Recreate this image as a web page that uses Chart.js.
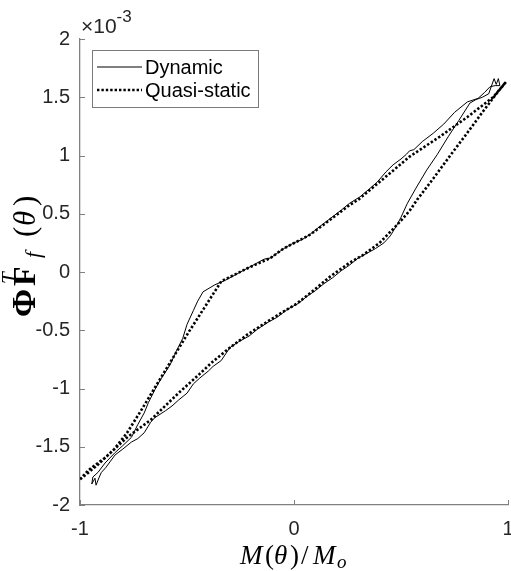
<!DOCTYPE html>
<html>
<head>
<meta charset="utf-8">
<script src="https://cdn.jsdelivr.net/npm/chart.js@4/dist/chart.umd.min.js"></script>
<style>
  html, body { margin: 0; padding: 0; background: #fff; }
</style>
</head>
<body>
<canvas id="chart" width="511" height="571"></canvas>
<script>
// values are in units of 1e-3
const quasiX = [-1, -0.96, -0.88, -0.78, -0.67, -0.54, -0.45, -0.38, -0.30, -0.22, -0.145, -0.05, 0.014, 0.09, 0.168, 0.26, 0.323, 0.40, 0.458, 0.50, 0.542, 0.575, 0.65, 0.73, 0.80, 0.88, 0.95, 0.99,
  0.93, 0.81, 0.68, 0.54, 0.45, 0.30, 0.26, 0.17, 0.075, -0.05, -0.11, -0.22, -0.34, -0.42, -0.49, -0.56, -0.636, -0.715, -0.78, -0.84, -0.92, -1];
const quasiY = [-1.78, -1.70, -1.59, -1.42, -1.27, -1.04, -0.89, -0.77, -0.65, -0.54, -0.45, -0.34, -0.27, -0.16, -0.04, 0.08, 0.146, 0.25, 0.36, 0.44, 0.53, 0.62, 0.80, 1.00, 1.17, 1.37, 1.54, 1.63,
  1.50, 1.33, 1.16, 0.99, 0.85, 0.62, 0.575, 0.45, 0.32, 0.20, 0.12, 0.03, -0.08, -0.31, -0.51, -0.72, -0.95, -1.19, -1.38, -1.52, -1.66, -1.78];

const dynamicX = [-0.94, -0.945, -0.93, -0.925, -0.91, -0.90, -0.88, -0.86, -0.836, -0.80, -0.76, -0.73, -0.70, -0.67, -0.65, -0.60, -0.57, -0.54, -0.50, -0.47, -0.44, -0.40, -0.378, -0.34, -0.30, -0.26, -0.21, -0.17, -0.12, -0.08, -0.03, 0.02, 0.06, 0.10, 0.14, 0.18, 0.22, 0.26, 0.30, 0.34, 0.38, 0.42, 0.45, 0.48, 0.50, 0.53, 0.57, 0.62, 0.67, 0.72, 0.77, 0.822, 0.85, 0.88, 0.91, 0.935, 0.945, 0.955, 0.962,
  0.94, 0.916, 0.89, 0.86, 0.81, 0.75, 0.70, 0.65, 0.60, 0.56, 0.54, 0.525, 0.50, 0.463, 0.43, 0.388, 0.35, 0.308, 0.26, 0.22, 0.17, 0.12, 0.08, 0.04, 0.0, -0.04, -0.08, -0.11, -0.14, -0.18, -0.22, -0.27, -0.32, -0.37, -0.425, -0.45, -0.47, -0.50, -0.52, -0.55, -0.58, -0.626, -0.65, -0.68, -0.70, -0.73, -0.76, -0.80, -0.836, -0.883, -0.916, -0.94];
const dynamicY = [-1.76, -1.82, -1.77, -1.83, -1.76, -1.72, -1.68, -1.63, -1.57, -1.52, -1.46, -1.43, -1.38, -1.29, -1.25, -1.19, -1.15, -1.10, -1.04, -0.96, -0.91, -0.85, -0.81, -0.76, -0.65, -0.60, -0.55, -0.49, -0.43, -0.39, -0.32, -0.27, -0.21, -0.16, -0.10, -0.05, 0.01, 0.06, 0.12, 0.16, 0.20, 0.25, 0.31, 0.40, 0.47, 0.59, 0.72, 0.875, 1.01, 1.16, 1.30, 1.45, 1.48, 1.50, 1.53, 1.66, 1.61, 1.66, 1.60,
  1.60, 1.59, 1.54, 1.49, 1.46, 1.37, 1.27, 1.19, 1.12, 1.05, 1.04, 1.01, 0.97, 0.92, 0.86, 0.77, 0.71, 0.645, 0.59, 0.53, 0.46, 0.39, 0.33, 0.28, 0.25, 0.21, 0.16, 0.12, 0.11, 0.07, 0.03, -0.02, -0.07, -0.11, -0.17, -0.25, -0.33, -0.45, -0.57, -0.68, -0.80, -0.93, -1.01, -1.12, -1.21, -1.31, -1.42, -1.49, -1.55, -1.64, -1.72, -1.76];

const xTickValues = [-1, 0, 1];
const yTickValues = [-2, -1.5, -1, -0.5, 0, 0.5, 1, 1.5, 2];
const seriesNames = ["Dynamic", "Quasi-static"];

const axisColor = "#808080";
const sansFont = "'Liberation Sans', Arial, sans-serif";
const serifFont = "'Liberation Serif', 'Times New Roman', serif";

function toPoints(xs, ys) {
  return xs.map((x, i) => ({ x: x, y: ys[i] }));
}

// draw glyph pieces at given offsets along the baseline
function drawPieces(ctx, pieces, x0, y0) {
  ctx.textAlign = "left";
  ctx.textBaseline = "alphabetic";
  pieces.forEach((p) => {
    ctx.font = p.font;
    ctx.fillText(p.text, x0 + p.at, y0 + (p.dy || 0));
  });
}

const decorations = {
  id: "decorations",
  afterDraw(chart) {
    const ctx = chart.ctx;
    const area = chart.chartArea;
    const xs = chart.scales.x;
    const ys = chart.scales.y;
    ctx.save();

    // inward tick marks
    ctx.strokeStyle = axisColor;
    ctx.lineWidth = 1;
    ctx.beginPath();
    xTickValues.forEach((v) => {
      const px = Math.round(xs.getPixelForValue(v)) + 0.5;
      ctx.moveTo(px, area.bottom);
      ctx.lineTo(px, area.bottom - 5);
    });
    yTickValues.forEach((v) => {
      const py = Math.round(ys.getPixelForValue(v)) + 0.5;
      ctx.moveTo(area.left, py);
      ctx.lineTo(area.left + 5, py);
    });
    ctx.stroke();

    // exponent above the y axis
    ctx.fillStyle = "#262626";
    ctx.textAlign = "left";
    ctx.textBaseline = "alphabetic";
    ctx.font = "21px " + sansFont;
    ctx.fillText("\u00d710", area.left + 1, 33);
    const w10 = ctx.measureText("\u00d710").width;
    ctx.font = "17px " + sansFont;
    ctx.fillText("-3", area.left + 1 + w10, 22);

    // x axis title
    ctx.fillStyle = "#000";
    drawPieces(ctx, [
      { text: "M", font: "italic 27px " + serifFont, at: 0 },
      { text: "(", font: "27px " + serifFont, at: 25 },
      { text: "\u03b8", font: "italic 27px " + serifFont, at: 34 },
      { text: ")", font: "27px " + serifFont, at: 50 },
      { text: "/", font: "27px " + serifFont, at: 61 },
      { text: "M", font: "italic 27px " + serifFont, at: 73 },
      { text: "o", font: "italic 19px " + serifFont, at: 97, dy: 4 },
    ], 240, 564);

    // y axis title, rotated
    ctx.save();
    ctx.translate(35, 317);
    ctx.rotate(-Math.PI / 2);
    drawPieces(ctx, [
      { text: "\u03a6", font: "bold 34px " + serifFont, at: 0 },
      { text: "T", font: "italic 21px " + serifFont, at: 33, dy: -19 },
      { text: "F", font: "bold 32px " + serifFont, at: 31 },
      { text: "f", font: "italic 22px " + serifFont, at: 59, dy: 5 },
      { text: "(", font: "31px " + serifFont, at: 80 },
      { text: "\u03b8", font: "italic 31px " + serifFont, at: 91 },
      { text: ")", font: "31px " + serifFont, at: 111 },
    ], 0, 0);
    ctx.restore();

    // legend box
    const bx = 92.5, by = 50.5, bw = 166, bh = 57;
    ctx.fillStyle = "#fff";
    ctx.fillRect(bx, by, bw, bh);
    ctx.strokeStyle = "#7a7a7a";
    ctx.lineWidth = 1;
    ctx.strokeRect(bx, by, bw, bh);
    const rows = [67, 90];
    chart.data.datasets.forEach((ds, i) => {
      ctx.strokeStyle = ds.borderColor;
      ctx.lineWidth = ds.borderWidth;
      ctx.setLineDash(ds.borderDash || []);
      ctx.beginPath();
      ctx.moveTo(97, rows[i]);
      ctx.lineTo(142, rows[i]);
      ctx.stroke();
      ctx.setLineDash([]);
      ctx.fillStyle = "#000";
      ctx.font = "20px " + sansFont;
      ctx.textBaseline = "middle";
      ctx.textAlign = "left";
      ctx.fillText(ds.label, 145, rows[i] + 1);
    });
    ctx.restore();
  },
};

Chart.defaults.font.family = sansFont;
Chart.defaults.font.size = 20;
Chart.defaults.color = "#262626";

new Chart(document.getElementById("chart"), {
  type: "scatter",
  data: {
    datasets: [
      {
        label: seriesNames[0],
        data: toPoints(dynamicX, dynamicY),
        showLine: true,
        borderColor: "#000",
        borderWidth: 1,
        pointRadius: 0,
        tension: 0,
      },
      {
        label: seriesNames[1],
        data: toPoints(quasiX, quasiY),
        showLine: true,
        borderColor: "#000",
        borderWidth: 2.6,
        borderDash: [2.4, 2],
        pointRadius: 0,
        tension: 0,
      },
    ],
  },
  options: {
    responsive: false,
    animation: false,
    layout: { padding: { top: 39, right: 3, left: 0, bottom: 0 } },
    plugins: { legend: { display: false }, tooltip: { enabled: false } },
    scales: {
      x: {
        type: "linear",
        min: -1,
        max: 1,
        grid: { display: false, drawTicks: false },
        border: { display: true, color: axisColor, width: 1.3 },
        afterBuildTicks: (scale) => {
          scale.ticks = xTickValues.map((v) => ({ value: v }));
        },
        afterFit: (scale) => {
          scale.height = 66;
          scale.paddingLeft = 0;
          scale.paddingRight = 0;
        },
        ticks: {
          padding: 12,
          autoSkip: false,
          maxRotation: 0,
          callback: (v) => String(v),
        },
      },
      y: {
        type: "linear",
        min: -2,
        max: 2,
        grid: { display: false, drawTicks: false },
        border: { display: true, color: axisColor, width: 1.3 },
        afterBuildTicks: (scale) => {
          scale.ticks = yTickValues.map((v) => ({ value: v }));
        },
        afterFit: (scale) => {
          scale.width = 80;
          scale.paddingTop = 0;
          scale.paddingBottom = 0;
        },
        ticks: {
          padding: 10,
          autoSkip: false,
          callback: (v) => String(v),
        },
      },
    },
  },
  plugins: [decorations],
});
</script>
</body>
</html>
